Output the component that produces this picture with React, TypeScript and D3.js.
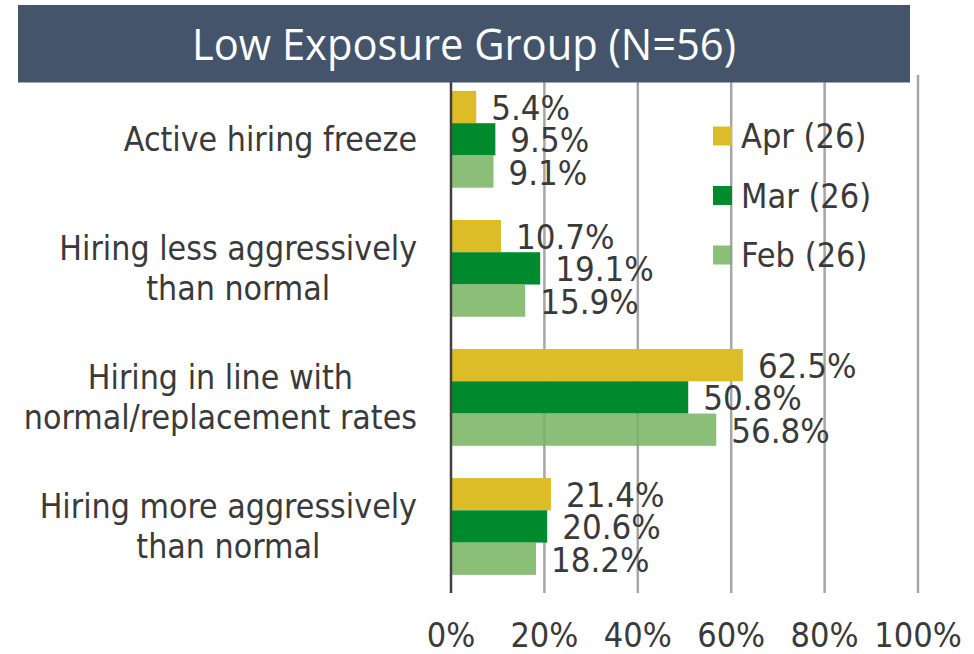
import * as d3 from 'd3';
import { useEffect, useRef } from 'react';

const categories = [
    'Active hiring freeze',
    'Hiring less aggressively\nthan normal',
    'Hiring in line with\nnormal/replacement rates',
    'Hiring more aggressively\nthan normal',
];
const seriesNames = ['Apr (26)', 'Mar (26)', 'Feb (26)'];
const aprValues = [5.4, 10.7, 62.5, 21.4];
const marValues = [9.5, 19.1, 50.8, 20.6];
const febValues = [9.1, 15.9, 56.8, 18.2];
const xTicks = [0, 20, 40, 60, 80, 100];
const title = 'Low Exposure Group (N=56)';

const colors = ['#DDBD27', '#008A2E', '#77B460'];
const opacities = [1, 1, 0.85];
const textColor = '#3A3A3A';
const font = '"DejaVu Sans Condensed", "DejaVu Sans", sans-serif';

export default function App() {
    const ref = useRef<SVGSVGElement>(null);

    const width = 974,
        height = 654;

    useEffect(() => {
        const svg = d3.select(ref.current);
        svg.selectAll('*').remove();

        const series = [aprValues, marValues, febValues];

        const x = d3.scaleLinear().domain([0, 100]).range([451, 918]);
        const y = d3
            .scaleBand()
            .domain(categories)
            .range([74.8, 591])
            .paddingInner(0.25)
            .paddingOuter(0.125);
        const ySub = d3
            .scaleBand()
            .domain(seriesNames)
            .range([0, y.bandwidth()]);

        // gridlines
        svg.append('g')
            .selectAll('line')
            .data(xTicks.slice(1))
            .join('line')
            .attr('x1', (d) => x(d))
            .attr('x2', (d) => x(d))
            .attr('y1', 75)
            .attr('y2', 593)
            .attr('stroke', '#A6A6A6')
            .attr('stroke-width', 2.5);

        // bars
        const groups = svg
            .append('g')
            .selectAll('g')
            .data(categories)
            .join('g')
            .attr('transform', (d) => `translate(0,${y(d)})`);

        groups
            .selectAll('rect')
            .data((_, i) => seriesNames.map((s, j) => ({ s, j, v: series[j][i] })))
            .join('rect')
            .attr('x', x(0))
            .attr('y', (d) => ySub(d.s)!)
            .attr('width', (d) => x(d.v) - x(0))
            .attr('height', ySub.bandwidth())
            .attr('fill', (d) => colors[d.j])
            .attr('fill-opacity', (d) => opacities[d.j]);

        groups
            .selectAll('text')
            .data((_, i) => seriesNames.map((s, j) => ({ s, j, v: series[j][i] })))
            .join('text')
            .attr('x', (d) => x(d.v) + 15)
            .attr('y', (d) => ySub(d.s)! + ySub.bandwidth() / 2 + 13)
            .attr('font-family', font)
            .attr('font-size', 34.5)
            .attr('fill', textColor)
            .text((d) => `${d.v.toFixed(1)}%`);

        // axis line
        svg.append('line')
            .attr('x1', x(0))
            .attr('x2', x(0))
            .attr('y1', 75)
            .attr('y2', 593)
            .attr('stroke', '#404040')
            .attr('stroke-width', 2.5);

        // tick labels
        svg.append('g')
            .selectAll('text')
            .data(xTicks)
            .join('text')
            .attr('x', (d) => x(d))
            .attr('y', 647)
            .attr('text-anchor', 'middle')
            .attr('font-family', font)
            .attr('font-size', 34)
            .attr('fill', textColor)
            .text((d) => `${d}%`);

        // category labels, lines centred in a right-aligned block
        const lineH = 40;
        categories.forEach((c) => {
            const lines = c.split('\n');
            const cy = y(c)! + y.bandwidth() / 2;
            const t = svg
                .append('text')
                .attr('font-family', font)
                .attr('font-size', 33.6)
                .attr('fill', textColor)
                .attr('text-anchor', 'middle');
            const spans = t
                .selectAll('tspan')
                .data(lines)
                .join('tspan')
                .attr('y', (_, i) => cy + 12 + (i - (lines.length - 1) / 2) * lineH)
                .text((d) => d);
            let maxW = 0;
            spans.each(function () {
                maxW = Math.max(maxW, (this as SVGTSpanElement).getComputedTextLength());
            });
            spans.attr('x', 417 - maxW / 2);
        });

        // legend
        const legend = svg
            .append('g')
            .selectAll('g')
            .data(seriesNames)
            .join('g')
            .attr('transform', (_, i) => `translate(713,${136 + i * 59.5})`);
        legend
            .append('rect')
            .attr('x', 0)
            .attr('y', -9.5)
            .attr('width', 19)
            .attr('height', 19)
            .attr('fill', (_, i) => colors[i])
            .attr('fill-opacity', (_, i) => opacities[i]);
        legend
            .append('text')
            .attr('x', 28)
            .attr('y', 12)
            .attr('font-family', font)
            .attr('font-size', 34)
            .attr('fill', textColor)
            .text((d) => d);

        // title bar
        svg.append('rect')
            .attr('x', 18)
            .attr('y', 5)
            .attr('width', 892)
            .attr('height', 77.5)
            .attr('fill', '#44546A');
        svg.append('text')
            .attr('x', 464)
            .attr('y', 60)
            .attr('text-anchor', 'middle')
            .attr('font-family', '"Open Sans", sans-serif')
            .attr('font-size', 43)
            .attr('fill', '#FFFFFF')
            .attr('textLength', 544)
            .attr('lengthAdjust', 'spacingAndGlyphs')
            .text(title);
    }, []);

    return (
        <svg
            ref={ref}
            width={width}
            height={height}
            style={{ position: 'fixed', left: 0, top: 0, background: '#fff' }}
        />
    );
}
